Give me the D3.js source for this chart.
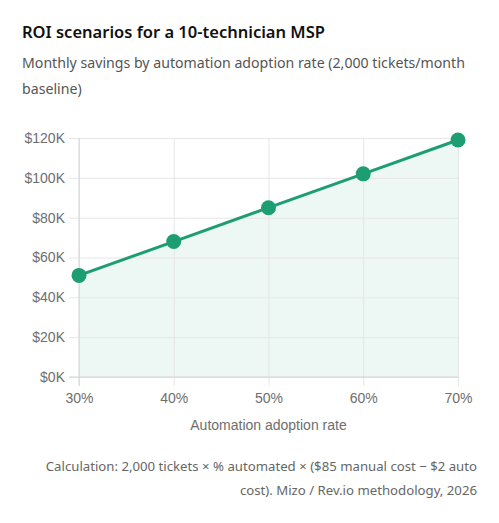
<!DOCTYPE html>
<html lang="en">
<head>
    <style>
        body { margin: 0; background: #fff; }
        svg { display: block; }
    </style>
</head>
<body>
    <svg></svg>
    <script src="https://cdn.jsdelivr.net/npm/d3@7"></script>
    <script>
        // Data
        const adoptionRates = [30, 40, 50, 60, 70];
        const monthlySavings = [51000, 68000, 85000, 102000, 119000];
        const yTicks = [0, 20000, 40000, 60000, 80000, 100000, 120000];

        const titleText = "ROI scenarios for a 10-technician MSP";
        const subtitleLines = ["Monthly savings by automation adoption rate (2,000 tickets/month", "baseline)"];
        const xTitle = "Automation adoption rate";
        const footerLines = ["Calculation: 2,000 tickets \u00d7 % automated \u00d7 ($85 manual cost \u2212 $2 auto", "cost). Mizo / Rev.io methodology, 2026"];

        const W = 499, H = 523;
        const svg = d3.select("svg").attr("width", W).attr("height", H);

        const green = "#1d9e72";
        const uiFont = "'Noto Sans', 'Open Sans', sans-serif";
        const axisFont = "'Liberation Sans', Arial, sans-serif";

        // Title + subtitle
        svg.append("text")
            .attr("x", 22).attr("y", 38)
            .attr("font-family", uiFont).attr("font-weight", 600).attr("font-size", 16.5)
            .attr("fill", "#111")
            .text(titleText);

        svg.append("g").selectAll("text").data(subtitleLines).join("text")
            .attr("x", 22).attr("y", (d, i) => 68 + i * 26)
            .attr("font-family", uiFont).attr("font-size", 14.15)
            .attr("fill", "#555")
            .text(d => d);

        // Plot area
        const plot = { left: 79, right: 458, top: 138, bottom: 377 };

        const x = d3.scaleLinear().domain([30, 70]).range([plot.left, plot.right]);
        const y = d3.scaleLinear().domain([0, 120000]).range([plot.bottom, plot.top]);

        const chart = svg.append("g");
        const points = adoptionRates.map((r, i) => [r, monthlySavings[i]]);

        // Area fill
        chart.append("path")
            .datum(points)
            .attr("fill", green).attr("fill-opacity", 0.08)
            .attr("d", d3.area().x(d => x(d[0])).y0(y(0)).y1(d => y(d[1])));

        // Grid via axes
        const yAxis = chart.append("g")
            .attr("transform", `translate(${plot.left},0)`)
            .call(d3.axisLeft(y).tickValues(yTicks)
                .tickSize(-(plot.right - plot.left))
                .tickFormat(d => "$" + d / 1000 + "K"));
        yAxis.select(".domain").remove();
        yAxis.selectAll(".tick line")
            .attr("x1", -10)
            .attr("stroke", "#e6e6e6");
        yAxis.selectAll(".tick text")
            .attr("x", -14)
            .attr("font-family", axisFont).attr("font-size", 14).attr("fill", "#6e6e6e");

        const xAxis = chart.append("g")
            .attr("transform", `translate(0,${plot.bottom})`)
            .call(d3.axisBottom(x).tickValues(adoptionRates)
                .tickSize(-(plot.bottom - plot.top))
                .tickFormat(d => d + "%"));
        xAxis.select(".domain").remove();
        xAxis.selectAll(".tick line")
            .attr("y1", 9)
            .attr("stroke", "#e6e6e6");
        xAxis.selectAll(".tick text")
            .attr("y", 16)
            .attr("font-family", axisFont).attr("font-size", 14).attr("fill", "#6e6e6e");

        // Axis borders
        chart.append("line")
            .attr("x1", plot.left).attr("x2", plot.left)
            .attr("y1", plot.top).attr("y2", plot.bottom + 9)
            .attr("stroke", "#d4d4d4");
        chart.append("line")
            .attr("x1", plot.left - 10).attr("x2", plot.right)
            .attr("y1", plot.bottom).attr("y2", plot.bottom)
            .attr("stroke", "#d4d4d4");

        // Line
        chart.append("path")
            .datum(points)
            .attr("fill", "none").attr("stroke", green).attr("stroke-width", 3)
            .attr("d", d3.line().x(d => x(d[0])).y(d => y(d[1])));

        // Points
        chart.selectAll("circle")
            .data(points)
            .join("circle")
            .attr("cx", d => x(d[0])).attr("cy", d => y(d[1]))
            .attr("r", 7.5).attr("fill", green);

        // X axis title
        svg.append("text")
            .attr("x", (plot.left + plot.right) / 2).attr("y", 430)
            .attr("text-anchor", "middle")
            .attr("font-family", axisFont).attr("font-size", 14).attr("fill", "#6e6e6e")
            .text(xTitle);

        // Footer
        svg.append("g").selectAll("text").data(footerLines).join("text")
            .attr("x", 477).attr("y", (d, i) => 471 + i * 24)
            .attr("text-anchor", "end")
            .attr("font-family", uiFont).attr("font-size", 13.2).attr("fill", "#666")
            .text(d => d);
    </script>
</body>
</html>
